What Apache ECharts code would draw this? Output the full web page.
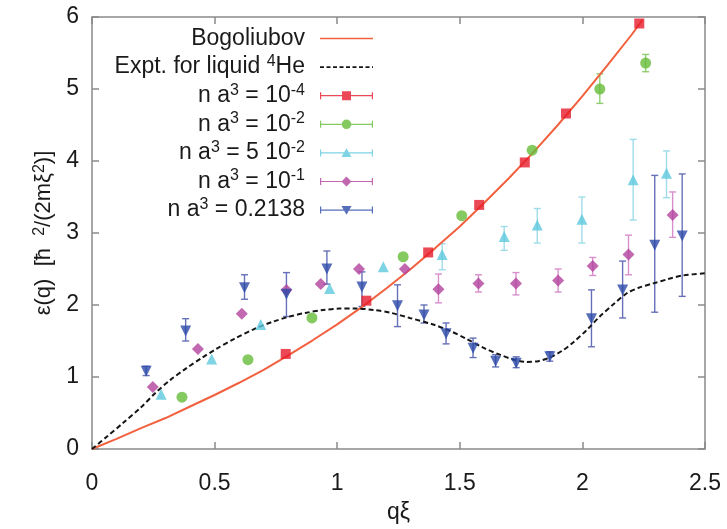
<!DOCTYPE html>
<html>
<head>
<meta charset="utf-8">
<title>Excitation spectrum</title>
<script src="https://cdn.jsdelivr.net/npm/echarts@6/dist/echarts.min.js"></script>
<style>
  html, body { margin: 0; padding: 0; background: #fff; }
  #main { width: 727px; height: 529px; }
</style>
</head>
<body>
<div id="main"></div>
<script>
// Bogoliubov curve (q, eps)
var bogQ = [0, 0.1, 0.2, 0.3, 0.4, 0.5, 0.6, 0.7, 0.8, 0.9, 1.0, 1.1, 1.2, 1.3, 1.4, 1.5, 1.6, 1.7, 1.8, 1.9, 2.0, 2.1, 2.2, 2.245];
var bogE = [0, 0.14, 0.29, 0.43, 0.59, 0.75, 0.92, 1.1, 1.3, 1.51, 1.73, 1.97, 2.23, 2.5, 2.79, 3.09, 3.42, 3.76, 4.12, 4.5, 4.9, 5.32, 5.75, 5.96];

// experimental curve for liquid 4He
var expQ = [0, 0.06, 0.126, 0.2, 0.262, 0.32, 0.384, 0.45, 0.507, 0.58, 0.67, 0.74, 0.806, 0.87, 0.942, 1.01, 1.078, 1.15, 1.22, 1.296, 1.391, 1.46, 1.527, 1.6, 1.663, 1.72, 1.772, 1.82, 1.867, 1.92, 1.962, 2.02, 2.071, 2.13, 2.18, 2.23, 2.289, 2.35, 2.41, 2.5];
var expE = [0, 0.17, 0.36, 0.58, 0.79, 0.96, 1.12, 1.27, 1.39, 1.53, 1.68, 1.77, 1.84, 1.89, 1.93, 1.95, 1.95, 1.93, 1.89, 1.82, 1.73, 1.64, 1.53, 1.4, 1.31, 1.24, 1.21, 1.22, 1.27, 1.37, 1.48, 1.66, 1.84, 2.02, 2.16, 2.24, 2.3, 2.36, 2.41, 2.44];

// QMC points [q, eps] and error bars [q, low, high]
var pts1 = [[0.79, 1.32], [1.119, 2.06], [1.371, 2.73], [1.579, 3.39], [1.765, 3.98], [1.933, 4.66], [2.232, 5.91]];
var err1 = [];

var pts2 = [[0.367, 0.72], [0.636, 1.24], [0.897, 1.82], [1.269, 2.67], [1.508, 3.24], [1.795, 4.15], [2.071, 5.0], [2.258, 5.36]];
var err2 = [[2.071, 4.8, 5.21], [2.258, 5.24, 5.48]];

var pts3 = [[0.282, 0.76], [0.488, 1.25], [0.688, 1.73], [0.969, 2.23], [1.188, 2.53], [1.428, 2.7], [1.681, 2.95], [1.816, 3.11], [1.998, 3.19], [2.207, 3.74], [2.343, 3.83]];
var err3 = [[1.428, 2.49, 2.85], [1.681, 2.76, 3.09], [1.816, 2.86, 3.34], [1.998, 2.86, 3.5], [2.207, 3.18, 4.3], [2.343, 3.49, 4.14]];

var pts4 = [[0.248, 0.86], [0.432, 1.39], [0.611, 1.88], [0.793, 2.21], [0.933, 2.29], [1.089, 2.5], [1.276, 2.5], [1.413, 2.22], [1.576, 2.3], [1.729, 2.3], [1.901, 2.34], [2.042, 2.54], [2.188, 2.7], [2.368, 3.25]];
var err4 = [[1.413, 2.03, 2.43], [1.576, 2.18, 2.42], [1.729, 2.14, 2.45], [1.901, 2.18, 2.5], [2.042, 2.41, 2.66], [2.188, 2.42, 2.97], [2.368, 2.94, 3.57]];

var pts5 = [[0.221, 1.08], [0.382, 1.64], [0.622, 2.24], [0.793, 2.15], [0.958, 2.5], [1.101, 2.25], [1.246, 1.99], [1.354, 1.86], [1.444, 1.6], [1.554, 1.4], [1.646, 1.22], [1.73, 1.19], [1.867, 1.28], [2.037, 1.81], [2.164, 2.21], [2.295, 2.83], [2.407, 2.96]];
var err5 = [[0.221, 1.02, 1.15], [0.382, 1.5, 1.81], [0.622, 2.08, 2.42], [0.793, 1.84, 2.45], [0.958, 2.29, 2.75], [1.101, 1.98, 2.46], [1.246, 1.7, 2.28], [1.354, 1.75, 2.0], [1.444, 1.46, 1.75], [1.554, 1.27, 1.54], [1.646, 1.14, 1.31], [1.73, 1.13, 1.28], [1.867, 1.22, 1.35], [2.037, 1.42, 2.21], [2.164, 1.82, 2.61], [2.295, 1.9, 3.8], [2.407, 2.12, 3.82]];

var xTicks = [0, 0.5, 1, 1.5, 2, 2.5];
var yTicks = [0, 1, 2, 3, 4, 5, 6];

var FONT = 'Liberation Sans';

var legendText = {
    'Bogoliubov': '{b|Bogoliubov}',
    'Expt': '{b|Expt. for liquid }{s|4}{b|He}',
    'r1': '{b|n a}{s|3}{b| = 10}{s|-4}',
    'r2': '{b|n a}{s|3}{b| = 10}{s|-2}',
    'r3': '{b|n a}{s|3}{b| = 5 10}{s|-2}',
    'r4': '{b|n a}{s|3}{b| = 10}{s|-1}',
    'r5': '{b|n a}{s|3}{b| = 0.2138}'
};

// legend icons in a 53x12 box, corner points keep the box
var box = 'M0 0 Z M53 12 Z ';
var barPart = 'M0 5.4 H53 V6.6 H0 Z M0 2.5 H1.2 V9.5 H0 Z M51.8 2.5 H53 V9.5 H51.8 Z ';
var dashPart = '';
for (var d = 0; d < 53; d += 6.5) {
    dashPart += 'M' + d + ' 5.2 H' + Math.min(d + 4, 53) + ' V6.8 H' + d + ' Z ';
}
var icons = {
    line: 'path://' + box + 'M0 5.3 H53 V6.7 H0 Z',
    dash: 'path://' + box + dashPart,
    square: 'path://' + box + barPart + 'M22 1.5 H31 V10.5 H22 Z',
    circle: 'path://' + box + barPart + 'M21.7 6 A4.8 4.8 0 1 1 31.3 6 A4.8 4.8 0 1 1 21.7 6 Z',
    tri: 'path://' + box + barPart + 'M26.5 1.3 L31.5 10 L21.5 10 Z',
    diamond: 'path://' + box + barPart + 'M26.5 1 L31.5 6 L26.5 11 L21.5 6 Z',
    down: 'path://' + box + barPart + 'M21.5 2 L31.5 2 L26.5 10.7 Z'
};

function renderErr(params, api) {
    var x = api.value(0);
    var top = api.coord([x, api.value(2)]);
    var bot = api.coord([x, api.value(1)]);
    var w = 3.5;
    var st = { stroke: api.visual('color'), lineWidth: 1.4 };
    return {
        type: 'group',
        children: [
            { type: 'line', shape: { x1: top[0], y1: top[1], x2: bot[0], y2: bot[1] }, style: st },
            { type: 'line', shape: { x1: top[0] - w, y1: top[1], x2: top[0] + w, y2: top[1] }, style: st },
            { type: 'line', shape: { x1: bot[0] - w, y1: bot[1], x2: bot[0] + w, y2: bot[1] }, style: st }
        ]
    };
}

function errSeries(data, color) {
    return {
        type: 'custom',
        renderItem: renderErr,
        data: data,
        encode: { x: 0, y: [1, 2] },
        itemStyle: { color: color },
        z: 1,
        silent: true
    };
}

function ptSeries(name, data, symbol, size, color, rotate) {
    return {
        name: name,
        type: 'scatter',
        data: data,
        symbol: symbol,
        symbolSize: size,
        symbolRotate: rotate || 0,
        itemStyle: { color: color },
        z: 4,
        silent: true
    };
}

var axisGray = '#8a8a8a';

function frameX(pos, labels) {
    return {
        type: 'value', position: pos, min: 0, max: 2.5, interval: 0.5,
        axisLine: { show: true, onZero: false, lineStyle: { color: axisGray, width: 1.5 } },
        axisTick: { show: true, inside: true, length: 7, lineStyle: { color: axisGray, width: 1.5 } },
        splitLine: { show: false },
        axisLabel: { show: labels, margin: 23, color: '#1a1a1a', fontSize: 23, fontFamily: FONT },
        name: labels ? 'qξ' : '', nameLocation: 'middle', nameGap: 52,
        nameTextStyle: { color: '#1a1a1a', fontSize: 23, fontFamily: FONT }
    };
}

function frameY(pos, labels) {
    return {
        type: 'value', position: pos, min: 0, max: 6, interval: 1,
        axisLine: { show: true, onZero: false, lineStyle: { color: axisGray, width: 1.5 } },
        axisTick: { show: true, inside: true, length: 7, lineStyle: { color: axisGray, width: 1.5 } },
        splitLine: { show: false },
        axisLabel: { show: labels, margin: 13, color: '#1a1a1a', fontSize: 23, fontFamily: FONT },
        name: labels ? '{b|ε(q)  [ħ  }{s|2}{b|/(2mξ}{s|2}{b|)]}' : '',
        nameLocation: 'middle', nameGap: 34,
        nameTextStyle: {
            color: '#1a1a1a', fontSize: 22, fontFamily: FONT,
            rich: {
                b: { fontSize: 22, fontFamily: FONT, color: '#1a1a1a', lineHeight: 26, verticalAlign: 'middle' },
                s: { fontSize: 16, fontFamily: FONT, color: '#1a1a1a', lineHeight: 10, verticalAlign: 'top' }
            }
        }
    };
}

var chart = echarts.init(document.getElementById('main'), null, { renderer: 'canvas' });

var option = {
    backgroundColor: '#fff',
    animation: false,
    grid: { left: 92, right: 22, top: 17, bottom: 74 },
    xAxis: [frameX('bottom', true), frameX('top', false)],
    yAxis: [frameY('left', true), frameY('right', false)],
    legend: {
        orient: 'vertical',
        align: 'right',
        right: 354,
        top: 27,
        padding: 0,
        itemGap: 3.6,
        itemWidth: 53,
        itemHeight: 12,
        selectedMode: false,
        itemStyle: { borderWidth: 0 },
        data: [
            { name: 'Bogoliubov', icon: icons.line },
            { name: 'Expt', icon: icons.dash },
            { name: 'r1', icon: icons.square },
            { name: 'r2', icon: icons.circle },
            { name: 'r3', icon: icons.tri },
            { name: 'r4', icon: icons.diamond },
            { name: 'r5', icon: icons.down }
        ],
        formatter: function (name) { return legendText[name]; },
        textStyle: {
            color: '#1a1a1a', fontSize: 23, fontFamily: FONT, padding: [0, 10, 0, 0],
            rich: {
                b: { fontSize: 23, fontFamily: FONT, color: '#1a1a1a', lineHeight: 27, verticalAlign: 'middle' },
                s: { fontSize: 16, fontFamily: FONT, color: '#1a1a1a', lineHeight: 10, verticalAlign: 'top' }
            }
        }
    },
    series: [
        ptSeries('r1', pts1, 'rect', 10, '#e61c2b'),
        ptSeries('r2', pts2, 'circle', 11, '#66bb3a'),
        ptSeries('r3', pts3, 'triangle', 11, '#5ec8dd'),
        ptSeries('r4', pts4, 'diamond', 12, '#b2429e'),
        ptSeries('r5', pts5, 'triangle', 11, '#2c49a8', 180),
        {
            name: 'Bogoliubov', type: 'line', showSymbol: false, symbol: 'none',
            data: bogQ.map(function (q, i) { return [q, bogE[i]]; }),
            lineStyle: { color: '#f2613f', width: 2 }, itemStyle: { color: '#f2613f' },
            z: 2, silent: true
        },
        {
            name: 'Expt', type: 'line', showSymbol: false, symbol: 'none', smooth: 0.3,
            data: expQ.map(function (q, i) { return [q, expE[i]]; }),
            lineStyle: { color: '#151515', width: 2, type: [5, 3] }, itemStyle: { color: '#151515' },
            z: 3, silent: true
        },
        errSeries(err1, '#ee8080'),
        errSeries(err2, '#8fcf6f'),
        errSeries(err3, '#9fdcea'),
        errSeries(err4, '#d88fcc'),
        errSeries(err5, '#6670b8')
    ]
};

chart.setOption(option);
</script>
</body>
</html>
